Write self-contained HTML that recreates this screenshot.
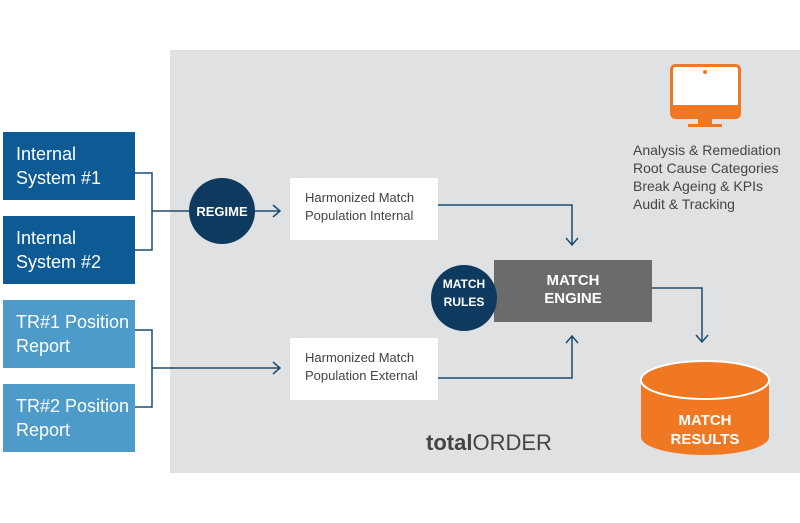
<!DOCTYPE html>
<html><head><style>
body{margin:0;width:800px;height:523px;background:#fff;position:relative;overflow:hidden;font-family:"Liberation Sans",sans-serif}
.a{position:absolute}
.lb{color:#fff;font-size:18px;line-height:24px;padding-left:13px;box-sizing:border-box}
.hm{background:#fff;color:#444;font-size:13px;line-height:18px;padding:4px 0 0 15px;box-sizing:border-box}
</style></head><body>
<div class="a" style="left:170px;top:50px;width:630px;height:423px;background:#e0e1e3"></div>
<div class="a lb" style="left:3px;top:132px;width:132px;height:68px;background:#0d5a94;padding-top:10px">Internal<br>System #1</div>
<div class="a lb" style="left:3px;top:216px;width:132px;height:68px;background:#0d5a94;padding-top:10px">Internal<br>System #2</div>
<div class="a lb" style="left:3px;top:300px;width:132px;height:68px;background:#4e9bc9;padding-top:10px">TR#1 Position<br>Report</div>
<div class="a lb" style="left:3px;top:384px;width:132px;height:68px;background:#4e9bc9;padding-top:10px">TR#2 Position<br>Report</div>
<div class="a hm" style="left:290px;top:178px;width:148px;height:62px;padding-top:11px">Harmonized Match<br>Population Internal</div>
<div class="a hm" style="left:290px;top:338px;width:148px;height:62px;padding-top:11px">Harmonized Match<br>Population External</div>
<div class="a" style="left:494px;top:260px;width:158px;height:62px;background:#6b6b6b;color:#fff;font-weight:bold;font-size:15px;line-height:18px;text-align:center;padding-top:12px;box-sizing:border-box">MATCH<br>ENGINE</div>
<svg class="a" style="left:0;top:0" width="800" height="523">
<g fill="none" stroke="#1d4a6e" stroke-width="1.5">
<path d="M135 173H152V250H135M152 211H190M255 211H280M273 205L280 211L273 217"/>
<path d="M135 330H152V407H135M152 368H280M273 362L280 368L273 374"/>
<path d="M438 205H572V245M566 238L572 245L578 238"/>
<path d="M438 378H572V336M566 343L572 336L578 343"/>
<path d="M652 288H702V342M696 335L702 342L708 335"/>
</g>
<circle cx="222" cy="211" r="33" fill="#0e3a5f"/>
<text x="222" y="216" fill="#fff" font-size="13" font-weight="bold" text-anchor="middle" font-family="Liberation Sans">REGIME</text>
<circle cx="464" cy="298" r="33" fill="#0e3a5f"/>
<text x="464" y="288" fill="#fff" font-size="12" font-weight="bold" text-anchor="middle" font-family="Liberation Sans">MATCH</text>
<text x="464" y="306" fill="#fff" font-size="12" font-weight="bold" text-anchor="middle" font-family="Liberation Sans">RULES</text>
<path d="M641 380V437A64 18 0 0 0 769 437V380Z" fill="#f07823"/>
<ellipse cx="705" cy="380" rx="64" ry="19" fill="#f07823" stroke="#fff" stroke-width="2"/>
<text x="705" y="425" fill="#fff" font-size="15" font-weight="bold" text-anchor="middle" font-family="Liberation Sans">MATCH</text>
<text x="705" y="444" fill="#fff" font-size="15" font-weight="bold" text-anchor="middle" font-family="Liberation Sans">RESULTS</text>
<rect x="671.5" y="65.5" width="68" height="52" rx="4" fill="#fff" stroke="#f07823" stroke-width="3"/>
<rect x="671" y="105" width="69" height="13" rx="3" fill="#f07823"/>
<rect x="698" y="118" width="14" height="6" fill="#f07823"/>
<rect x="688" y="124" width="34" height="3" fill="#f07823"/>
<circle cx="705" cy="72" r="2" fill="#f07823"/>
</svg>
<div class="a" style="left:633px;top:141px;color:#444;font-size:14px;line-height:18px">Analysis &amp; Remediation<br>Root Cause Categories<br>Break Ageing &amp; KPIs<br>Audit &amp; Tracking</div>
<div class="a" style="left:426px;top:430px;color:#444;font-size:22px"><b>total</b>ORDER</div>
</body></html>
